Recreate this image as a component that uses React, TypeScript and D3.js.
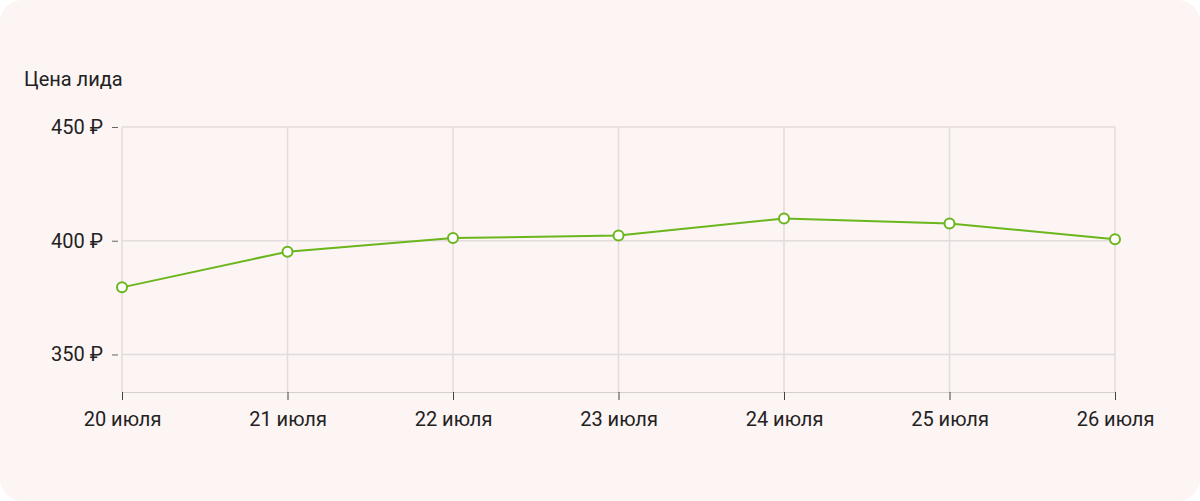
import { useEffect, useRef } from "react";
import * as d3 from "d3";

const W = 1200;
const H = 501;
const ML = 122;
const MR = 85;
const MT = 127;
const MB = 109;

const DAYS = ["20 июля", "21 июля", "22 июля", "23 июля", "24 июля", "25 июля", "26 июля"];
const PRICES = [379.5, 395.2, 401.2, 402.3, 409.8, 407.6, 400.7];
const Y_TICKS = [350, 400, 450];
const Y_DOMAIN: [number, number] = [333.5, 450];

const GREEN = "#6ab61c";
const GRID = "#e3dcdc";
const TEXT = "#222";
const FONT = "Roboto, sans-serif";

export default function App() {
  const xAxisRef = useRef<SVGGElement>(null);
  const yAxisRef = useRef<SVGGElement>(null);

  const x = d3.scalePoint<string>().domain(DAYS).range([ML, W - MR]);
  const y = d3.scaleLinear().domain(Y_DOMAIN).range([H - MB, MT]);

  const line = d3
    .line<number>()
    .x((_, i) => x(DAYS[i]) ?? 0)
    .y((d) => y(d));

  useEffect(() => {
    if (xAxisRef.current) {
      const g = d3.select(xAxisRef.current);
      g.selectAll("*").remove();
      g.call(d3.axisBottom(x).tickSize(8).tickPadding(12))
        .call((g) => g.select(".domain").attr("stroke", "#d6cfcf"))
        .call((g) => g.selectAll(".tick line").attr("stroke", "#444"))
        .call((g) =>
          g
            .selectAll(".tick text")
            .attr("fill", TEXT)
            .attr("font-size", 20)
            .attr("font-family", FONT),
        );
    }
    if (yAxisRef.current) {
      const g = d3.select(yAxisRef.current);
      g.selectAll("*").remove();
      g.call(
        d3
          .axisLeft(y)
          .tickValues(Y_TICKS)
          .tickSize(8)
          .tickPadding(9)
          .tickFormat((d) => `${d} ₽`),
      )
        .call((g) => g.select(".domain").remove())
        .call((g) => g.selectAll(".tick line").attr("stroke", "#666").attr("x1", -2))
        .call((g) =>
          g
            .selectAll(".tick text")
            .attr("fill", TEXT)
            .attr("font-size", 20)
            .attr("font-family", FONT),
        );
    }
  }, []);

  return (
    <svg
      width={W}
      height={H}
      style={{ position: "fixed", left: 0, top: 0, background: "#fff" }}
    >
      <rect x={0} y={0} width={W} height={H} rx={22} fill="#fdf4f4" />
      <text x={24} y={86} fill={TEXT} fontSize={20} fontFamily={FONT}>
        Цена лида
      </text>

      <g stroke={GRID} strokeWidth={1.5}>
        {DAYS.map((d) => (
          <line key={d} x1={x(d)} x2={x(d)} y1={MT} y2={H - MB} />
        ))}
        {Y_TICKS.map((t) => (
          <line key={t} x1={ML} x2={W - MR} y1={y(t)} y2={y(t)} />
        ))}
      </g>

      <g ref={yAxisRef} transform={`translate(${ML - 2},0)`} />
      <g ref={xAxisRef} transform={`translate(0,${H - MB})`} />

      <path d={line(PRICES) ?? ""} fill="none" stroke={GREEN} strokeWidth={2} />
      {PRICES.map((p, i) => (
        <circle
          key={i}
          cx={x(DAYS[i])}
          cy={y(p)}
          r={5}
          fill="#fff"
          stroke={GREEN}
          strokeWidth={2}
        />
      ))}
    </svg>
  );
}
